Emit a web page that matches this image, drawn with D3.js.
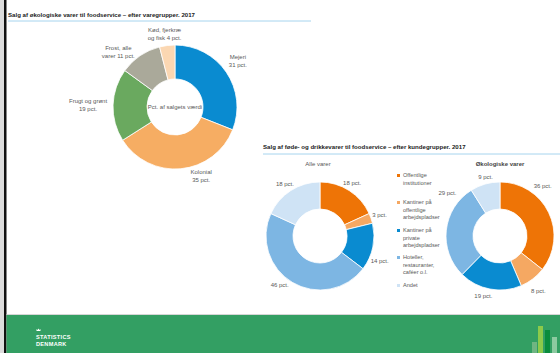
<!DOCTYPE html>
<html>
<head>
<meta charset="utf-8">
<script src="https://cdn.jsdelivr.net/npm/d3@7"></script>
<style>
  body { margin: 0; background: #fff; }
  svg { display: block; font-family: "Liberation Sans", Arial, sans-serif; }
</style>
</head>
<body>
<div id="chart"></div>
<script>
// Salg af økologiske varer - efter varegrupper
var varegrupper = [['Mejeri'], ['Kolonial'], ['Frugt og grønt'], ['Frost, alle', 'varer'], ['Kød, fjerkræ', 'og fisk']];
var varegruppeAndel = [31, 35, 19, 11, 4];

// Salg af føde- og drikkevarer - efter kundegrupper
var kundegrupper = [
  ['Offentlige', 'institutioner'],
  ['Kantiner på', 'offentlige', 'arbejdspladser'],
  ['Kantiner på', 'private', 'arbejdspladser'],
  ['Hoteller,', 'restauranter,', 'caféer o.l.'],
  ['Andet']
];
var alleVarer = [18, 3, 14, 46, 18];
var oekoVarer = [36, 8, 19, 29, 9];

var W = 560, H = 353;
var textColor = '#595959';
var varegruppeFarver = ['#0a8bd0', '#f6ad63', '#6aa95f', '#aaa99a', '#fbd7b2'];
var kundeFarver = ['#ee7406', '#f5a862', '#0a8bd0', '#7db6e3', '#cfe3f5'];

var svg = d3.select('#chart').append('svg')
  .attr('width', W)
  .attr('height', H);

// left page edge
svg.append('rect').attr('x', 0).attr('y', 0).attr('width', 4).attr('height', H).attr('fill', '#dcdcdc');
svg.append('rect').attr('x', 4).attr('y', 0).attr('width', 2.5).attr('height', H).attr('fill', '#111');

var pie = d3.pie().sort(null).value(function (d) { return d; });

function drawDonut(cx, cy, rOuter, rInner, values, colors, labelR, nudges, labelLines) {
  var g = svg.append('g').attr('transform', 'translate(' + cx + ',' + cy + ')');
  var arc = d3.arc().innerRadius(rInner).outerRadius(rOuter);
  var labelArc = d3.arc().innerRadius(labelR).outerRadius(labelR);
  var arcs = pie(values);

  g.selectAll('path')
    .data(arcs)
    .enter()
    .append('path')
    .attr('d', arc)
    .attr('fill', function (d, i) { return colors[i]; })
    .attr('stroke', '#fff')
    .attr('stroke-width', 0.8);

  arcs.forEach(function (d, i) {
    var c = labelArc.centroid(d);
    var n = nudges[i] || [0, 0];
    var lines = labelLines(d, i);
    var t = g.append('text')
      .attr('text-anchor', 'middle')
      .attr('fill', textColor)
      .attr('font-size', 6);
    var y0 = c[1] + n[1] - (lines.length - 1) * 4 + 2;
    lines.forEach(function (l, j) {
      t.append('tspan')
        .attr('x', c[0] + n[0])
        .attr('y', y0 + j * 8)
        .text(l);
    });
  });
  return g;
}

// ---- Chart 1 ----
svg.append('text')
  .attr('x', 8).attr('y', 17)
  .attr('font-size', 6.1).attr('font-weight', 'bold').attr('fill', '#222')
  .text('Salg af økologiske varer til foodservice – efter varegrupper. 2017');
svg.append('line')
  .attr('x1', 8).attr('x2', 311).attr('y1', 21).attr('y2', 21)
  .attr('stroke', '#8fc9ea').attr('stroke-width', 0.8);

var g1 = drawDonut(175, 107, 62, 28, varegruppeAndel, varegruppeFarver, 76,
  [[0, -3], [19, -7], [-11, 0], [-14, 8], [-1, 2]],
  function (d, i) {
    var lines = varegrupper[i].slice();
    var pct = d.data + ' pct.';
    if (lines.length === 1) lines.push(pct); else lines[lines.length - 1] += ' ' + pct;
    return lines;
  });
g1.append('text')
  .attr('text-anchor', 'middle').attr('y', 2)
  .attr('font-size', 6).attr('fill', textColor)
  .text('Pct. af salgets værdi');

// ---- Chart 2 ----
svg.append('text')
  .attr('x', 263).attr('y', 149)
  .attr('font-size', 6.1).attr('font-weight', 'bold').attr('fill', '#222')
  .text('Salg af føde- og drikkevarer til foodservice – efter kundegrupper. 2017');
svg.append('line')
  .attr('x1', 263).attr('x2', W).attr('y1', 154).attr('y2', 154)
  .attr('stroke', '#8fc9ea').attr('stroke-width', 0.8);

svg.append('text')
  .attr('x', 318).attr('y', 166).attr('text-anchor', 'middle')
  .attr('font-size', 6).attr('fill', textColor)
  .text('Alle varer');
svg.append('text')
  .attr('x', 500).attr('y', 166).attr('text-anchor', 'middle')
  .attr('font-size', 6).attr('font-weight', 'bold').attr('fill', '#444')
  .text('Økologiske varer');

var pctLabel = function (d) { return [d.data + ' pct.']; };
drawDonut(320, 236, 54, 27, alleVarer, kundeFarver, 63,
  [[-2, 0], [0, 0], [-2, 12], [-8, -5], [-1, 1]], pctLabel);
drawDonut(500, 236, 54, 27, oekoVarer, kundeFarver, 63,
  [[-14, -23], [0, 5], [-5, -2], [10, -36], [3, 2]], pctLabel);

// legend
var legendY = [177, 204, 232, 259, 287];
var legend = svg.append('g').selectAll('g')
  .data(kundegrupper)
  .enter()
  .append('g')
  .attr('transform', function (d, i) { return 'translate(397,' + legendY[i] + ')'; });
legend.append('rect')
  .attr('x', 0).attr('y', -3).attr('width', 3).attr('height', 3)
  .attr('fill', function (d, i) { return kundeFarver[i]; });
legend.append('text')
  .attr('fill', textColor).attr('font-size', 5.6)
  .selectAll('tspan')
  .data(function (d) { return d; })
  .enter()
  .append('tspan')
  .attr('x', 6)
  .attr('y', function (d, j) { return j * 7.5; })
  .text(function (d) { return d; });

// ---- footer ----
svg.append('line')
  .attr('x1', 6.5).attr('x2', W).attr('y1', 314.5).attr('y2', 314.5)
  .attr('stroke', '#d6d6d6').attr('stroke-width', 1);
svg.append('rect')
  .attr('x', 6.5).attr('y', 315).attr('width', W - 6.5).attr('height', H - 315)
  .attr('fill', '#339f63');

var logo = svg.append('g').attr('fill', '#fff').attr('font-weight', 'bold').attr('font-size', 5.6);
logo.append('path')
  .attr('d', 'M36.5,331 h4 v-2 l-1,1 l-1,-1.5 l-1,1.5 l-1,-1 z')
  .attr('fill', '#fff');
logo.append('text').attr('x', 36).attr('y', 338.5).attr('letter-spacing', 0.3).text('STATISTICS');
logo.append('text').attr('x', 36).attr('y', 345.5).attr('letter-spacing', 0.3).text('DENMARK');

var logoBars = [
  { x: 532, top: 342, c: '#6fb582' },
  { x: 538, top: 326, c: '#8cca4a' },
  { x: 545, top: 330, c: '#0a8c3c' },
  { x: 552, top: 337, c: '#8ccaa0' }
];
svg.selectAll('rect.logobar')
  .data(logoBars)
  .enter()
  .append('rect')
  .attr('class', 'logobar')
  .attr('x', function (d) { return d.x; })
  .attr('y', function (d) { return d.top; })
  .attr('width', 5)
  .attr('height', function (d) { return H - d.top; })
  .attr('fill', function (d) { return d.c; });
</script>
</body>
</html>
